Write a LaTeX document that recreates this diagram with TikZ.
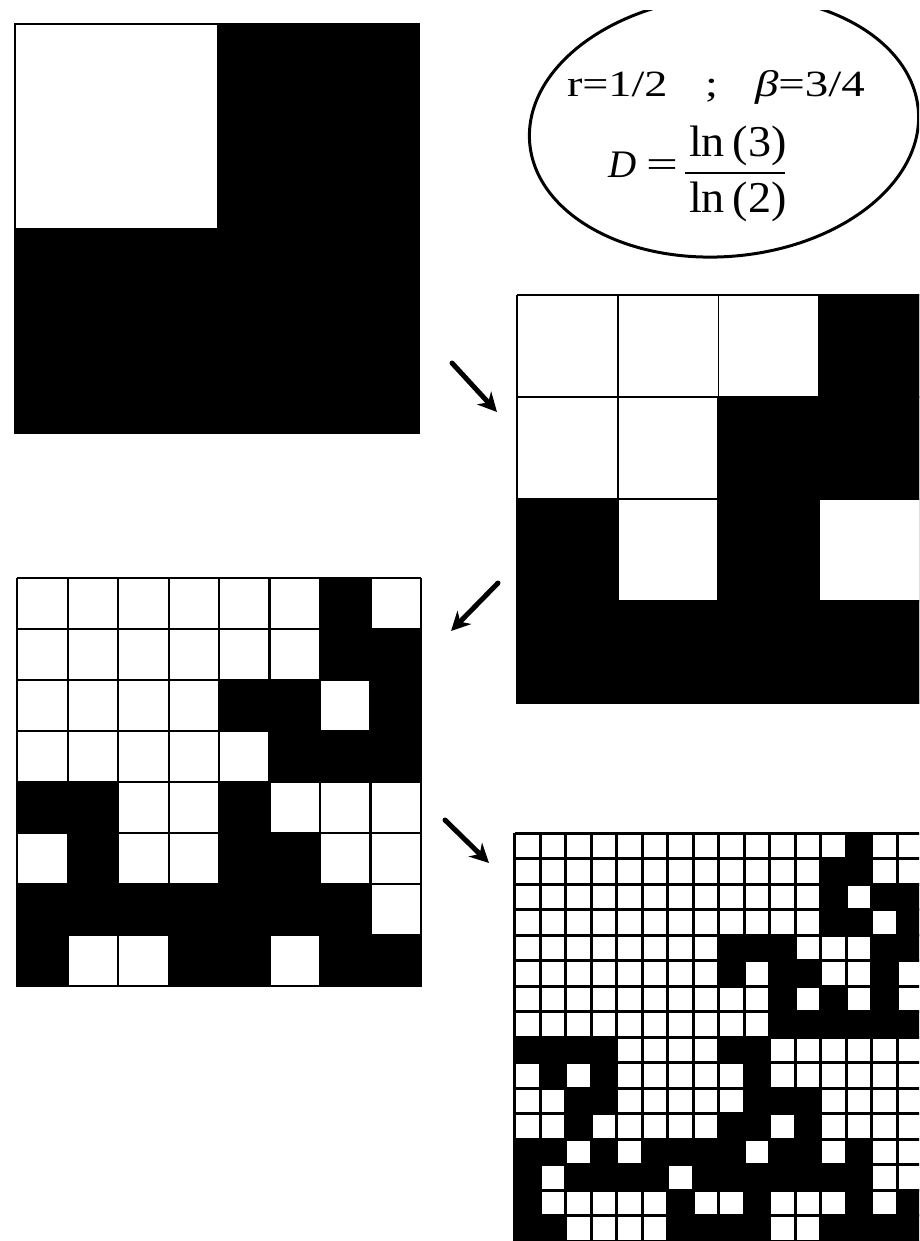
\documentclass[tikz,border=0pt]{standalone}
\usepackage{fontspec}
\setmainfont{Liberation Serif}
\usetikzlibrary{arrows.meta}
\tikzset{
  gridA/.style={line width=1.6pt, black},
  gridB/.style={line width=1.6pt, black},
  gridC/.style={line width=2.2pt, black},
  gridD/.style={line width=3pt, black},
  blackcell/.style={fill=black},
  hand/.style={line width=5pt, black, line cap=round,
    -{Stealth[length=19pt,width=19pt,inset=6pt]}},
  eqtext/.style={inner sep=0pt, outer sep=0pt, text=black}
}
\begin{document}
\begin{tikzpicture}[x=1pt,y=-1pt]
\useasboundingbox (0,0) rectangle (919,1241);
\fill[white] (0,0) rectangle (919,1241);
\clip (0,0) rectangle (919,1241);

% ---------- level 1 : 2x2 ----------
\begin{scope}[shift={(15,24)}, xscale=202, yscale=204.5]
  \fill[blackcell] (1,0) rectangle (2,2);
  \fill[blackcell] (0,1) rectangle (2,2);
  \draw[gridA] (0,0) rectangle (2,2);
\end{scope}

% ---------- level 2 : 4x4 ----------
\begin{scope}[shift={(517,295)}, xscale=100.7, yscale=102]
  \foreach \i in {0,...,4} {
    \draw[gridB] (\i,0) -- (\i,4);
    \draw[gridB] (0,\i) -- (4,\i);
  }
  \foreach \r/\cs in {0/{3},1/{2,3},2/{0,2},3/{0,1,2,3}}
    \foreach \c in \cs
      \fill[blackcell] (\c-0.01,\r-0.01) rectangle (\c+1.01,\r+1.01);
\end{scope}

% ---------- level 3 : 8x8 ----------
\begin{scope}[shift={(17.3,578.3)}, xscale=50.45, yscale=51]
  \foreach \i in {0,...,8} {
    \draw[gridC] (\i,0) -- (\i,8);
    \draw[gridC] (0,\i) -- (8,\i);
  }
  \foreach \r/\cs in {0/{6},1/{6,7},2/{4,5,7},3/{5,6,7},4/{0,1,4},
                      5/{1,4,5},6/{0,1,2,3,4,5,6},7/{0,3,4,6,7}}
    \foreach \c in \cs
      \fill[blackcell] (\c-0.02,\r-0.02) rectangle (\c+1.02,\r+1.02);
\end{scope}

% ---------- level 4 : 16x16 ----------
\begin{scope}[shift={(514.5,833)}, xscale=25.5, yscale=25.5]
  \foreach \i in {0,...,16} {
    \draw[gridD] (\i,0) -- (\i,16);
    \draw[gridD] (0,\i) -- (16,\i);
  }
  \foreach \r/\cs in {0/{13},1/{12,13},2/{12,14,15},3/{12,13,15},
                      4/{8,9,10,14,15},5/{8,10,11,14},6/{10,12,14},
                      7/{10,11,12,13,14,15},8/{0,1,2,3,8,9},9/{1,3,9},
                      10/{2,3,9,10,11},11/{2,8,9,11},
                      12/{0,1,3,5,6,7,8,10,11,13},
                      13/{0,2,3,4,5,7,8,9,10,11,12,13},
                      14/{0,6,9,13,15},
                      15/{0,1,6,7,8,9,12,13,14,15}}
    \foreach \c in \cs
      \fill[blackcell] (\c-0.03,\r-0.03) rectangle (\c+1.03,\r+1.03);
\end{scope}

% ---------- ellipse with formula ----------
\begin{scope}
  \clip (0,11) rectangle (919,1241);
  \draw[line width=3pt, rotate around={4.9:(724,126.5)}]
    (724,126.5) ellipse [x radius=195, y radius=130];
\end{scope}

\node[eqtext, anchor=base west] (rr) at (567,97)
  {\fontsize{37pt}{42pt}\selectfont\scalebox{1.25}[1]{r=1/2}};
\node[eqtext, anchor=base west] (semi) at (705,97)
  {\fontsize{37pt}{42pt}\selectfont\scalebox{1.25}[1]{;}};
\node[eqtext, anchor=base west] (beta) at (755,97)
  {\fontsize{37pt}{42pt}\selectfont\scalebox{1.27}[1]{\textit{β}=3/4}};

\node[eqtext, anchor=base west] (dd) at (608,178)
  {\fontsize{39pt}{44pt}\selectfont\textit{D}};
\node[eqtext, anchor=base west] (eq) at (646,178)
  {\fontsize{39pt}{44pt}\selectfont\scalebox{1.45}[1]{=}};
\node[eqtext, anchor=base west] (num) at (689,157)
  {\fontsize{44pt}{50pt}\selectfont\scalebox{1.05}[1]{ln\,(3)}};
\node[eqtext, anchor=base west] (den) at (689,213)
  {\fontsize{44pt}{50pt}\selectfont\scalebox{1.05}[1]{ln\,(2)}};
\coordinate (barl) at (685,173);
\coordinate (barr) at (785,173);
\draw[line width=2pt] (barl) -- (barr);

% ---------- arrows ----------
\coordinate (a1s) at (452,363);
\coordinate (a1e) at (497,412);
\coordinate (a2s) at (498,583);
\coordinate (a2e) at (451,631);
\coordinate (a3s) at (445,820);
\coordinate (a3e) at (489,863);
\draw[hand] (a1s) -- (a1e);
\draw[hand] (a2s) -- (a2e);
\draw[hand] (a3s) -- (a3e);
\end{tikzpicture}
\end{document}
